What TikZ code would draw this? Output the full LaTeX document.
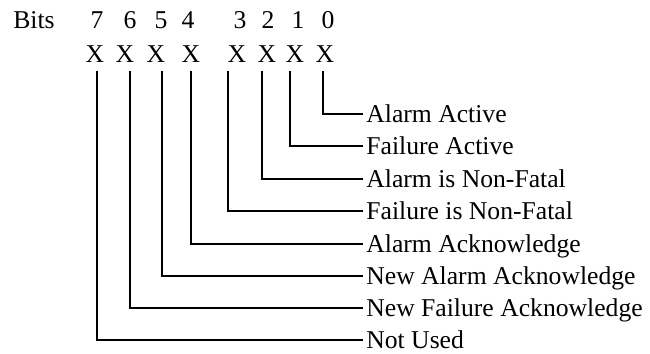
\documentclass[tikz,border=0pt]{standalone}
\usepackage{fontspec}
\setmainfont{Liberation Serif}
\begin{document}
\begin{tikzpicture}[x=0.02cm, y=-0.02cm, font=\fontsize{14.6}{17}\selectfont,
    bitlabel/.style={anchor=base, inner sep=0pt},
    fieldlabel/.style={anchor=west, inner xsep=0.06cm, inner ysep=0pt, text height=0.36cm, text depth=0pt},
    bitline/.style={draw=black, line width=1.1pt}]
    \useasboundingbox (0,0) rectangle (650,354);

    % Header row
    \node[anchor=base west, inner sep=0pt] (bits) at (13,29) {Bits};
    \foreach \b/\bx/\xx in {7/97/95, 6/130/125, 5/161/156, 4/188/191, 3/240/237, 2/268/267, 1/298/295, 0/328/325} {
        \node[bitlabel] (b\b) at (\bx,29) {\b};
        \node[bitlabel] (x\b) at (\xx,63) {X};
    }

    % Field names
    \foreach \b/\ly/\txt in {0/114/Alarm Active, 1/146/Failure Active, 2/179/Alarm is Non-Fatal,
                             3/211/Failure is Non-Fatal, 4/244/Alarm Acknowledge,
                             5/276/New Alarm Acknowledge, 6/308/New Failure Acknowledge, 7/340/Not Used} {
        \node[fieldlabel] (lbl\b) at (363,\ly) {\txt};
    }

    % Lines from bits to names
    \foreach \b/\tx in {7/97, 6/130, 5/162, 4/191, 3/228, 2/262, 1/290, 0/323} {
        \coordinate (top\b) at (\tx,71);
        \draw[bitline] (top\b) |- (lbl\b.west);
    }
\end{tikzpicture}
\end{document}
